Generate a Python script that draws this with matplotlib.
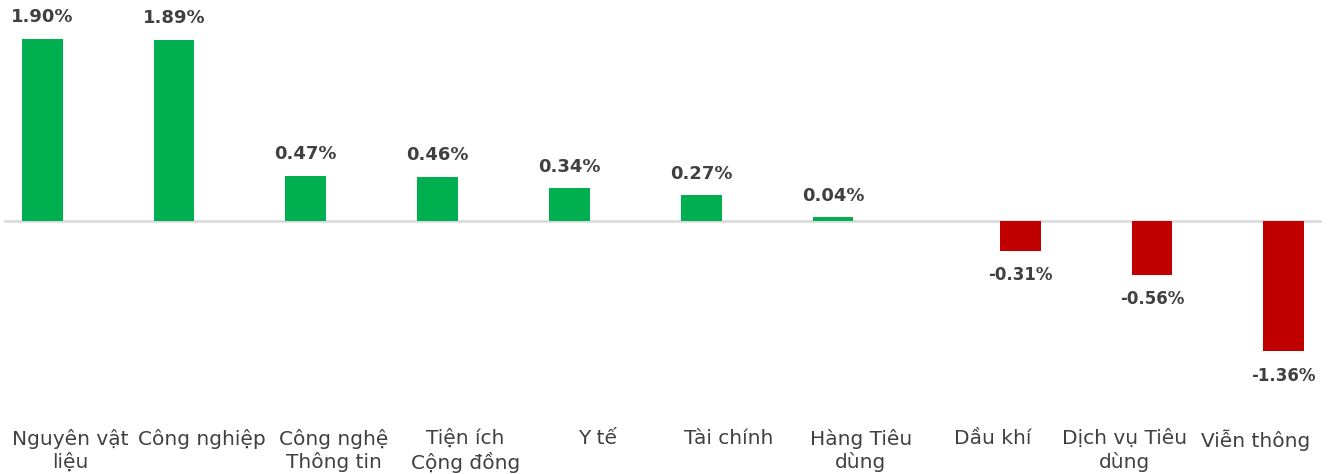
import matplotlib
matplotlib.use('Agg')
import matplotlib.pyplot as plt
import numpy as np

# sector performance (%)
sectors = ["Nguyên vật\nliệu", "Công nghiệp", "Công nghệ\nThông tin", "Tiện ích\nCộng đồng",
           "Y tế", "Tài chính", "Hàng Tiêu\ndùng", "Dầu khí", "Dịch vụ Tiêu\ndùng", "Viễn thông"]
changes = [1.90, 1.89, 0.47, 0.46, 0.34, 0.27, 0.04, -0.31, -0.56, -1.36]

GREEN = '#00b050'
RED = '#c00000'
TEXT = '#404040'

plt.rcParams['font.family'] = ['DejaVu Sans']

fig = plt.figure(figsize=(13.28, 4.74), dpi=100)
# axes in figure fractions: left 4px, right 1322px, top 10px, bottom 400px
ax = fig.add_axes([4 / 1328, (474 - 400) / 474, 1318 / 1328, 390 / 474])

x = np.arange(len(sectors))
vals = np.array(changes)
pos = vals >= 0
offset = 0.21  # the gain / loss series sit on either side of the category
width = 0.31

ax.bar(x[pos] - offset, vals[pos], width=width, color=GREEN, zorder=2)
ax.bar(x[~pos] + offset, vals[~pos], width=width, color=RED, zorder=2)

for xi, v in zip(x, vals):
    if v >= 0:
        ax.annotate(f"{v:.2f}%", (xi - offset, v), xytext=(0, 9), textcoords='offset points',
                    ha='center', va='bottom', fontsize=13, fontweight='bold', color=TEXT)
    else:
        ax.annotate(f"{v:.2f}%", (xi + offset, v), xytext=(0, -11), textcoords='offset points',
                    ha='center', va='top', fontsize=12, fontweight='bold', color=TEXT)

ax.axhline(0, color='#d9d9d9', linewidth=1.8, zorder=1)

ax.set_xlim(-0.5, len(sectors) - 0.5)
ax.set_ylim(-(400 - 221) / 95.8, (221 - 10) / 95.8)
ax.set_xticks(x)
ax.set_xticklabels(sectors, fontsize=14.5, color=TEXT, linespacing=1.2)
ax.tick_params(axis='x', length=0, pad=21)
ax.set_yticks([])
for s in ax.spines.values():
    s.set_visible(False)

fig.savefig('out.png', dpi=100)
